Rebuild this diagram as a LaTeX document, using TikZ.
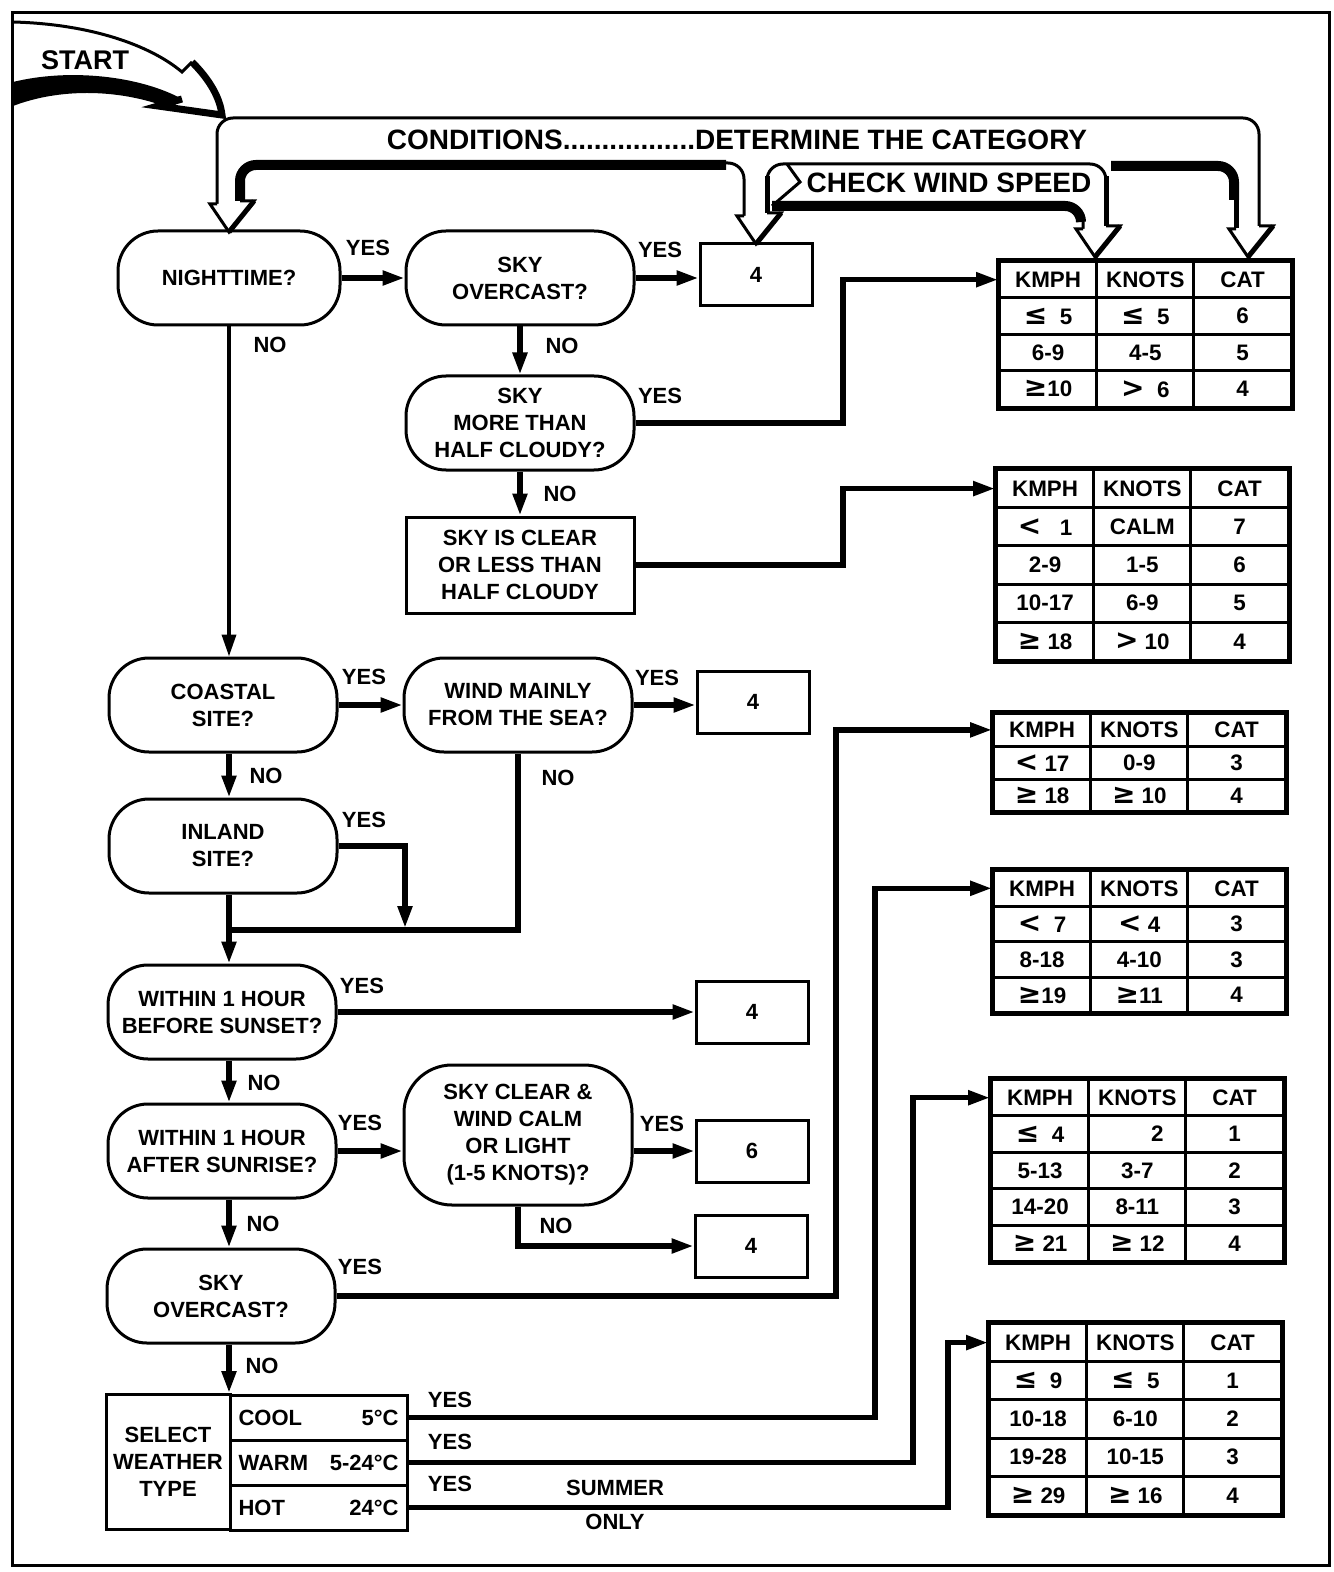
\documentclass[tikz,border=0pt]{standalone}
\usepackage{fontspec}
\setmainfont{Liberation Sans}
\newfontfamily\symfont{DejaVu Sans}
\usetikzlibrary{arrows.meta,matrix}

\newcommand{\boxfont}{\fontsize{11}{13.5}\selectfont\bfseries}
\newcommand{\tabfont}{\fontsize{11.2}{13.5}\selectfont\bfseries}
\newcommand{\ribfont}{\fontsize{14}{16}\selectfont\bfseries}
\newcommand{\startfont}{\fontsize{13.5}{16}\selectfont\bfseries}
% big comparison signs as in the tables
\newcommand{\leqmark}{{\symfont\bfseries\fontsize{14}{13.5}\selectfont ≤}}
\newcommand{\geqmark}{{\symfont\bfseries\fontsize{14}{13.5}\selectfont ≥}}
\newcommand{\ltmark}{{\symfont\bfseries\fontsize{14}{13.5}\selectfont <}}
\newcommand{\gtmark}{{\symfont\bfseries\fontsize{14}{13.5}\selectfont >}}

\tikzset{
  decision/.style={draw, line width=1.5pt, rounded corners=20pt, minimum width=114pt,
    minimum height=47pt, align=center, font=\boxfont, inner sep=2pt},
  plainbox/.style={draw, line width=1.5pt, minimum width=114pt, minimum height=48pt,
    align=center, font=\boxfont},
  catbox/.style={draw, line width=1.5pt, minimum width=56pt, minimum height=31pt, font=\boxfont},
  weatherrow/.style={draw, line width=1.5pt, minimum width=88.5pt, minimum height=22.5pt,
    text width=80pt, font=\boxfont, inner sep=0pt},
  answer/.style={font=\boxfont, inner sep=0pt},
  flow/.style={line width=2.6pt, -{Triangle[length=11pt,width=7pt]}},
  link/.style={line width=2.6pt},
  ribthin/.style={line width=1.5pt},
  ribmid/.style={line width=2.5pt},
  ribthick/.style={line width=5pt},
  windtab/.style={matrix of nodes, draw, line width=2pt, inner sep=0pt, anchor=north west,
    column sep=-1.5pt, row sep=-1.5pt,
    nodes={draw, line width=1.5pt, minimum width=48.6pt, inner sep=0pt, anchor=center, font=\tabfont}},
  rtip/.pic={
    \draw[ribthin, fill=white] (-12,-28) -- (-19,-28) -- (0,0) -- (25,-31) -- (11,-31);
    \draw[ribmid] (0,0) -- (25,-31);
  }
}

\begin{document}
\begin{tikzpicture}[x=0.5pt, y=-0.5pt]
  \useasboundingbox (0,0) rectangle (1333,1572);
  \draw[line width=1.5pt] (12,13) rectangle (1329,1565); % frame

  % START arrow
  \node[font=\startfont] (start) at (85,60) {START};
  \fill (13,82) .. controls (70,68) and (140,76) .. (182,99) -- (158,104)
    .. controls (115,90) and (60,88) .. (13,106) -- cycle;
  \draw[line width=1.5pt] (13,22) .. controls (90,24) and (150,45) .. (182,72) -- (192,62);
  \draw[line width=3.5pt] (192,62) .. controls (210,80) and (220,98) .. (222,115) -- (158,106) -- (182,99);

  % conditions ribbon
  \draw[ribthin, rounded corners=8pt] (217,204) -- (217,118) -- (1259,118) -- (1259,226);
  \draw[ribthin, rounded corners=8pt] (240,201) -- (240,163) -- (744,163) -- (744,216);
  \draw[ribthick, rounded corners=8pt] (240,201) -- (240,165) -- (726,165);
  \draw[ribthin, rounded corners=8pt] (767,213) -- (767,164) -- (1106,164) -- (1106,226);
  \draw[ribmid] (767,213) -- (767,176);
  \draw[ribmid] (1106,226) -- (1106,176);
  \draw[ribthin, rounded corners=8pt] (1111,164) -- (1236,164) -- (1236,228);
  \draw[ribthick, rounded corners=8pt] (1111,166) -- (1234,166) -- (1234,200);
  \draw[ribmid] (1236,180) -- (1236,228);
  % check wind speed ribbon
  \draw[ribthin, rounded corners=8pt] (772,204) -- (1083,204) -- (1083,229);
  \draw[ribthick, rounded corners=8pt] (772,206) -- (1081,206) -- (1081,222);
  \draw[ribthin] (787,164) -- (800,182) -- (772,206);
  \pic at (229,232) {rtip};
  \pic at (756,244) {rtip};
  \pic at (1095,257) {rtip};
  \pic at (1248,257) {rtip};
  \node[font=\ribfont] (conditions) at (737,140) {CONDITIONS.................DETERMINE THE CATEGORY};
  \node[font=\ribfont] (checkwind) at (949,183) {CHECK WIND SPEED};

  % questions
  \node[decision, minimum width=111pt] (night) at (229,278) {NIGHTTIME?};
  \node[decision] (skyA) at (520,278) {SKY\\OVERCAST?};
  \node[catbox] (catA) at (756,275) {4};
  \node[decision] (skyB) at (520,423) {SKY\\MORE THAN\\HALF CLOUDY?};
  \node[plainbox] (clear) at (520,565) {SKY IS CLEAR\\OR LESS THAN\\HALF CLOUDY};
  \node[decision] (coastal) at (223,705) {COASTAL\\SITE?};
  \node[decision] (wind) at (518,705) {WIND MAINLY\\FROM THE SEA?};
  \node[catbox] (catB) at (753,702) {4};
  \node[decision] (inland) at (223,846) {INLAND\\SITE?};
  \node[decision] (sunset) at (222,1012) {WITHIN 1 HOUR\\BEFORE SUNSET?};
  \node[catbox] (catC) at (752,1012) {4};
  \node[decision] (sunrise) at (222,1151) {WITHIN 1 HOUR\\AFTER SUNRISE?};
  \node[decision, minimum height=70pt, rounded corners=24pt] (calm) at (518,1135)
    {SKY CLEAR \&\\WIND CALM\\OR LIGHT\\(1-5 KNOTS)?};
  \node[catbox] (catD) at (752,1151) {6};
  \node[catbox] (catE) at (751,1246) {4};
  \node[decision] (skyC) at (221,1296) {SKY\\OVERCAST?};
  \node[draw, line width=1.5pt, minimum width=62pt, minimum height=67.5pt, align=center,
    font=\boxfont, inner sep=0pt] (select) at (168,1462) {SELECT\\WEATHER\\TYPE};
  \node[weatherrow] (cool) at (318.5,1417.5) {COOL\hfill 5°C};
  \node[weatherrow] (warm) at (318.5,1462.5) {WARM\hfill 5-24°C};
  \node[weatherrow] (hot) at (318.5,1507.5) {HOT\hfill 24°C};

  % wind tables
  \matrix (tabA) [windtab, nodes={minimum height=18.2pt}] at (996,258) {
    KMPH & KNOTS & CAT \\
    \leqmark\ \ 5 & \leqmark\ \ 5 & 6 \\
    6-9 & 4-5 & 5 \\
    \geqmark10 & \gtmark\ \ 6 & 4 \\
  };
  \matrix (tabB) [windtab, nodes={minimum height=19.1pt}] at (993,466) {
    KMPH & KNOTS & CAT \\
    \ltmark\ \ \ 1 & CALM & 7 \\
    2-9 & 1-5 & 6 \\
    10-17 & 6-9 & 5 \\
    \geqmark\ 18 & \gtmark\ 10 & 4 \\
  };
  \matrix (tabC) [windtab, nodes={minimum height=16.4pt}] at (990,710) {
    KMPH & KNOTS & CAT \\
    \ltmark\ 17 & 0-9 & 3 \\
    \geqmark\ 18 & \geqmark\ 10 & 4 \\
  };
  \matrix (tabD) [windtab, nodes={minimum height=17.8pt}] at (990,867) {
    KMPH & KNOTS & CAT \\
    \ltmark\ \ 7 & \ltmark\ 4 & 3 \\
    8-18 & 4-10 & 3 \\
    \geqmark19 & \geqmark11 & 4 \\
  };
  \matrix (tabE) [windtab, nodes={minimum height=18.2pt}] at (988,1076) {
    KMPH & KNOTS & CAT \\
    \leqmark\ \ 4 & \hspace*{20pt}2 & 1 \\
    5-13 & 3-7 & 2 \\
    14-20 & 8-11 & 3 \\
    \geqmark\ 21 & \geqmark\ 12 & 4 \\
  };
  \matrix (tabF) [windtab, nodes={minimum height=19.1pt}] at (986,1320) {
    KMPH & KNOTS & CAT \\
    \leqmark\ \ 9 & \leqmark\ \ 5 & 1 \\
    10-18 & 6-10 & 2 \\
    19-28 & 10-15 & 3 \\
    \geqmark\ 29 & \geqmark\ 16 & 4 \\
  };

  % bends
  \coordinate (spine) at (229,0);
  \coordinate (join) at (229,930);
  \coordinate (inlandin) at (405,928);
  \coordinate (busA) at (843,0);
  \coordinate (busC) at (836,0);
  \coordinate (busD) at (875,0);
  \coordinate (busE) at (913,0);
  \coordinate (busF) at (948,0);

  % connectors
  \draw[flow] (night.east) -- (skyA.west);
  \draw[flow] (skyA.east) -- (skyA.east -| catA.west);
  \draw[flow] (skyA.south) -- (skyB.north);
  \draw[flow] (skyB.east) -- (skyB.east -| busA) |- (tabA-1-1.west);
  \draw[flow] (skyB.south) -- (clear.north);
  \draw[flow] (clear.east) -- (clear.east -| busA) |- (tabB-1-1.west);
  \draw[line width=1.8pt, -{Triangle[length=11pt,width=7pt]}] (night.south) -- (night.south |- coastal.north);
  \draw[flow] (coastal.east) -- (wind.west);
  \draw[flow] (wind.east) -- (wind.east -| catB.west);
  \draw[flow] (coastal.south -| spine) -- (inland.north -| spine);
  \draw[link] (wind.south) |- (join);
  \draw[flow] (inland.east) -| (inlandin);
  \draw[flow] (inland.south -| spine) -- (sunset.north -| spine);
  \draw[flow] (sunset.east) -- (sunset.east -| catC.west);
  \draw[flow] (sunset.south -| spine) -- (sunrise.north -| spine);
  \draw[flow] (sunrise.east) -- (sunrise.east -| calm.west);
  \draw[flow] (catD.west -| calm.east) -- (catD.west);
  \draw[flow] (calm.south) |- (catE.west);
  \draw[flow] (sunrise.south -| spine) -- (skyC.north -| spine);
  \draw[flow] (skyC.east) -- (skyC.east -| busC) |- (tabC-1-1.west);
  \draw[flow] (skyC.south -| spine) -- (select.north -| spine);
  \draw[flow] (cool.east) -- (cool.east -| busD) |- (tabD-1-1.west);
  \draw[flow] (warm.east) -- (warm.east -| busE) |- (tabE-1-1.west);
  \draw[flow] (hot.east) -- (hot.east -| busF) |- (tabF-1-1.west);

  % answers
  \node[answer] (yesA) at (368,248) {YES};
  \node[answer] (yesB) at (660,250) {YES};
  \node[answer] (yesC) at (660,396) {YES};
  \node[answer] (yesD) at (364,677) {YES};
  \node[answer] (yesE) at (657,678) {YES};
  \node[answer] (yesF) at (364,820) {YES};
  \node[answer] (yesG) at (362,986) {YES};
  \node[answer] (yesH) at (360,1123) {YES};
  \node[answer] (yesI) at (662,1124) {YES};
  \node[answer] (yesJ) at (360,1267) {YES};
  \node[answer] (yesK) at (450,1400) {YES};
  \node[answer] (yesL) at (450,1442) {YES};
  \node[answer] (yesM) at (450,1484) {YES};
  \node[answer] (noA) at (270,345) {NO};
  \node[answer] (noB) at (562,346) {NO};
  \node[answer] (noC) at (560,494) {NO};
  \node[answer] (noD) at (266,776) {NO};
  \node[answer] (noE) at (558,778) {NO};
  \node[answer] (noF) at (264,1083) {NO};
  \node[answer] (noG) at (263,1224) {NO};
  \node[answer] (noH) at (556,1226) {NO};
  \node[answer] (noI) at (262,1366) {NO};
  \node[answer] (summer) at (615,1488) {SUMMER};
  \node[answer] (only) at (615,1522) {ONLY};
\end{tikzpicture}
\end{document}
